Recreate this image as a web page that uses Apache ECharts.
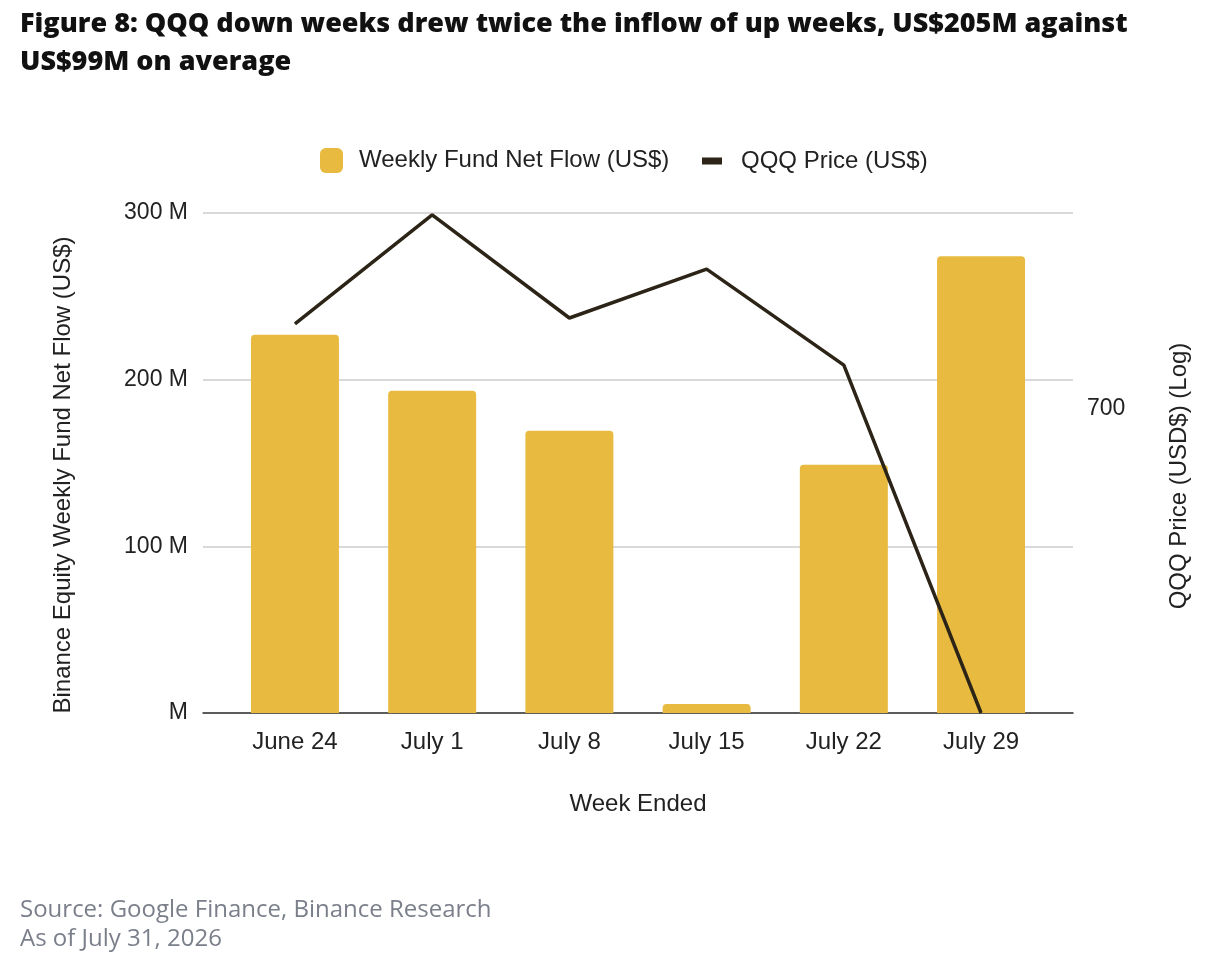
<!DOCTYPE html>
<html>
<head>
<meta charset="utf-8">
<title>QQQ weekly flows</title>
<script src="https://cdn.jsdelivr.net/npm/echarts@6/dist/echarts.min.js"></script>
<style>
  html, body { margin: 0; padding: 0; background: #fff; }
  #chart { width: 1216px; height: 962px; }
</style>
</head>
<body>
<div id="chart"></div>
<script>
// week labels
var weeks = ['June 24', 'July 1', 'July 8', 'July 15', 'July 22', 'July 29'];
// weekly fund net flow, US$ millions
var netFlow = [227, 193.4, 169.4, 5.4, 149, 274];
// QQQ price, US$ (log axis)
var qqqPrice = [708.6, 719.8, 709.2, 714.2, 704.4, 670];
// tick labels
var flowTicks = [0, 100, 200, 300];
var priceTicks = [700];

var FONT = '"Liberation Sans", Arial, sans-serif';

(function () {
    var chart = echarts.init(document.getElementById('chart'));

    // bars and line sit on a numeric x so the category padding matches
    var barData = netFlow.map(function (v, i) { return [i, v]; });
    var lineData = qqqPrice.map(function (v, i) { return [i, v]; });
    var xIdx = weeks.map(function (w, i) { return i; });

    var option = {
        animation: false,
        title: [
            {
                text: 'Figure 8: QQQ down weeks drew twice the inflow of up weeks, US$205M against\nUS$99M on average',
                left: 15,
                top: 0,
                textStyle: {
                    fontFamily: '"Open Sans", sans-serif',
                    fontWeight: 800,
                    fontSize: 27,
                    lineHeight: 38,
                    color: '#111'
                }
            },
            {
                text: 'Source: Google Finance, Binance Research\nAs of July 31, 2026',
                left: 15,
                top: 891,
                textStyle: {
                    fontFamily: '"Open Sans", sans-serif',
                    fontWeight: 400,
                    fontSize: 24,
                    lineHeight: 29,
                    color: '#7a7f8a'
                }
            }
        ],
        legend: [
            {
                data: ['Weekly Fund Net Flow (US$)'],
                left: 320,
                top: 148,
                padding: 0,
                icon: 'roundRect',
                itemWidth: 23,
                itemHeight: 25,
                textStyle: { fontFamily: FONT, fontSize: 24, color: '#222', padding: [0, 0, 0, 11] }
            },
            {
                data: ['QQQ Price (US$)'],
                left: 702,
                top: 149,
                padding: 0,
                icon: 'rect',
                itemWidth: 20,
                itemHeight: 7,
                textStyle: { fontFamily: FONT, fontSize: 24, color: '#222', padding: [0, 0, 0, 14] }
            }
        ],
        grid: { left: 203, right: 143, top: 213, bottom: 249 },
        xAxis: {
            type: 'value',
            min: -0.67,
            max: 5.67,
            name: 'Week Ended',
            nameLocation: 'middle',
            nameGap: 79,
            nameTextStyle: { fontFamily: FONT, fontSize: 24, color: '#222' },
            axisLine: { show: true, lineStyle: { color: '#333', width: 1.5 } },
            axisTick: { show: false },
            splitLine: { show: false },
            axisLabel: {
                customValues: xIdx,
                margin: 17,
                fontFamily: FONT,
                fontSize: 24,
                color: '#222',
                formatter: function (v) { return weeks[Math.round(v)]; }
            }
        },
        yAxis: [
            {
                type: 'value',
                min: 0,
                max: 300,
                interval: 100,
                name: 'Binance Equity Weekly Fund Net Flow (US$)',
                nameLocation: 'middle',
                nameGap: 128,
                nameTextStyle: { fontFamily: FONT, fontSize: 24, color: '#222', padding: [0, 24, 0, 0] },
                axisLine: { show: false },
                axisTick: { show: false },
                splitLine: { lineStyle: { color: '#cccccc', width: 1.5 } },
                axisLabel: {
                    customValues: flowTicks,
                    margin: 15,
                    fontFamily: FONT,
                    fontSize: 23,
                    color: '#222',
                    formatter: function (v) { return v === 0 ? 'M' : v + ' M'; }
                }
            },
            {
                type: 'log',
                min: 670,
                max: 720,
                position: 'right',
                name: 'QQQ Price (USD$) (Log)',
                nameLocation: 'middle',
                nameGap: 94,
                nameTextStyle: { fontFamily: FONT, fontSize: 24, color: '#222', padding: [0, 26, 0, 0] },
                axisLine: { show: false },
                axisTick: { show: false },
                splitLine: { show: false },
                axisLabel: {
                    customValues: priceTicks,
                    margin: 14,
                    fontFamily: FONT,
                    fontSize: 23,
                    color: '#222',
                    formatter: function (v) { return String(Math.round(v)); }
                }
            }
        ],
        series: [
            {
                name: 'Weekly Fund Net Flow (US$)',
                type: 'bar',
                yAxisIndex: 0,
                barWidth: 88,
                itemStyle: { color: '#e8ba40', borderRadius: [4, 4, 0, 0] },
                data: barData
            },
            {
                name: 'QQQ Price (US$)',
                type: 'line',
                yAxisIndex: 1,
                symbol: 'none',
                lineStyle: { color: '#2b2417', width: 3.5 },
                itemStyle: { color: '#2b2417' },
                data: lineData
            }
        ]
    };

    chart.setOption(option);
})();
</script>
</body>
</html>
